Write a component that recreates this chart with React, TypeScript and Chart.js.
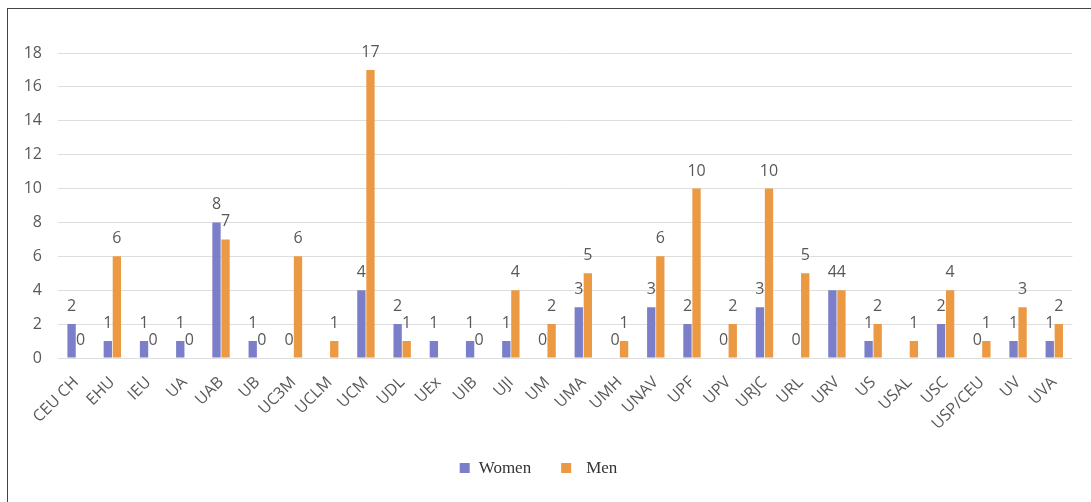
import React, { useEffect, useRef } from "react";
import { Chart, registerables } from "chart.js";

Chart.register(...registerables);

const categories = ["CEU CH", "EHU", "IEU", "UA", "UAB", "UB", "UC3M", "UCLM", "UCM", "UDL", "UEx", "UIB", "UJI", "UM", "UMA", "UMH", "UNAV", "UPF", "UPV", "URJC", "URL", "URV", "US", "USAL", "USC", "USP/CEU", "UV", "UVA"];
const women: (number | null)[] = [2, 1, 1, 1, 8, 1, 0, null, 4, 2, 1, 1, 1, 0, 3, 0, 3, 2, 0, 3, 0, 4, 1, null, 2, 0, 1, 1];
const men: (number | null)[] = [0, 6, 0, 0, 7, 0, 6, 1, 17, 1, null, 0, 4, 2, 5, 1, 6, 10, 2, 10, 5, 4, 2, 1, 4, 1, 3, 2];
const yTicks = [0, 2, 4, 6, 8, 10, 12, 14, 16, 18];

const labelPlugin = {
  id: "valueLabels",
  afterDatasetsDraw(chart: any) {
    const ctx = chart.ctx;
    ctx.save();
    ctx.font = "16px 'Open Sans', sans-serif";
    ctx.fillStyle = "#595959";
    ctx.textAlign = "center";
    ctx.textBaseline = "alphabetic";
    chart.data.datasets.forEach((ds: any, i: number) => {
      const meta = chart.getDatasetMeta(i);
      meta.data.forEach((el: any, j: number) => {
        const v = ds.data[j];
        if (v === null || v === undefined) return;
        ctx.fillText(String(v), el.x, el.y - 13);
      });
    });
    ctx.restore();
  },
};

const legendPlugin = {
  id: "customLegend",
  afterDraw(chart: any) {
    const ctx = chart.ctx;
    ctx.save();
    ctx.font = "17px 'Liberation Serif', serif";
    ctx.textBaseline = "middle";
    ctx.textAlign = "left";
    const ds = chart.data.datasets;
    const gaps = [9, 15];
    const box = 10;
    const between = 30;
    const widths = ds.map((d: any) => ctx.measureText(d.label).width);
    let total = 0;
    ds.forEach((_: any, i: number) => {
      total += box + gaps[i] + widths[i];
      if (i < ds.length - 1) total += between;
    });
    let x = 530.5 - total / 2;
    const cy = 459;
    ds.forEach((d: any, i: number) => {
      ctx.fillStyle = d.backgroundColor;
      ctx.fillRect(x, cy - box / 2, box, box);
      x += box + gaps[i];
      ctx.fillStyle = "#333333";
      ctx.fillText(d.label, x, cy + 1);
      x += widths[i] + between;
    });
    ctx.restore();
  },
};

export default function App() {
  const ref = useRef<HTMLCanvasElement>(null);
  useEffect(() => {
    if (!ref.current) return;
    const chart = new Chart(ref.current, {
      type: "bar",
      data: {
        labels: categories,
        datasets: [
          { label: "Women", data: women, backgroundColor: "#7b7fc9", barPercentage: 0.92, categoryPercentage: 0.5 },
          { label: "Men", data: men, backgroundColor: "#eb9a43", barPercentage: 0.92, categoryPercentage: 0.5 },
        ],
      },
      options: {
        animation: false,
        responsive: false,
        maintainAspectRatio: false,
        layout: { padding: { top: 44, right: 8, bottom: 44, left: 0 } },
        plugins: {
          tooltip: { enabled: false },
          legend: { display: false },
        },
        scales: {
          x: {
            grid: { display: false, drawTicks: false },
            border: { display: false },
            ticks: {
              color: "#595959",
              font: { family: "'Open Sans', sans-serif", size: 16 },
              minRotation: 45,
              maxRotation: 45,
              autoSkip: false,
              padding: 15,
            },
            afterFit: (s: any) => { s.height = 93; },
          },
          y: {
            min: 0,
            max: 18,
            afterBuildTicks: (s: any) => { s.ticks = yTicks.map((v) => ({ value: v })); },
            grid: { color: "#dedede", lineWidth: 1, drawTicks: false },
            border: { display: false },
            ticks: {
              color: "#595959",
              font: { family: "'Open Sans', sans-serif", size: 16 },
              padding: 16,
            },
            afterFit: (s: any) => { s.width = 50; },
          },
        },
      },
      plugins: [labelPlugin, legendPlugin],
    });
    return () => chart.destroy();
  }, []);
  return (
    <div style={{ position: "absolute", left: 7, top: 8, width: 1100, height: 520, borderLeft: "1px solid #444", borderTop: "1px solid #444", boxSizing: "border-box" }}>
      <canvas ref={ref} width={1075} height={486} style={{ display: "block" }} />
    </div>
  );
}
